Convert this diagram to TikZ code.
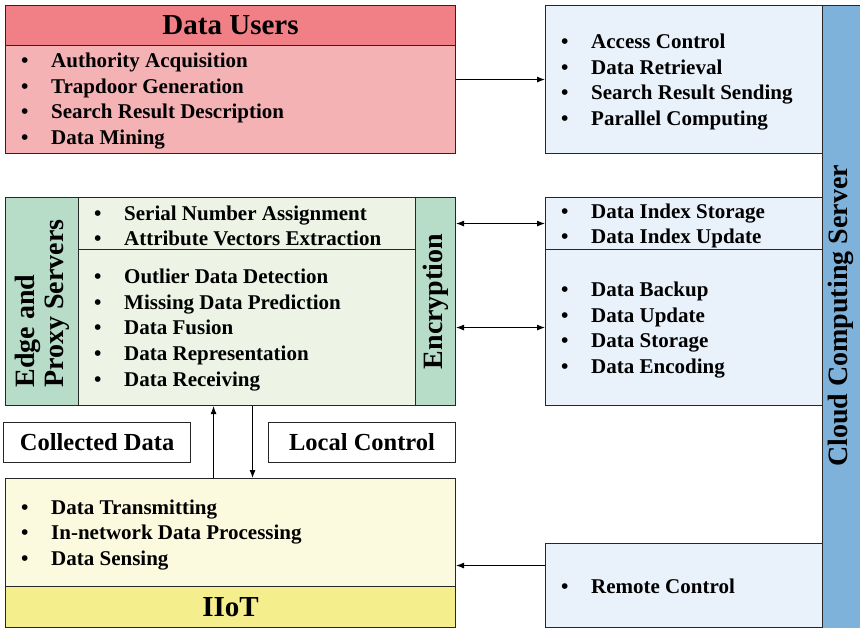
\documentclass[tikz,border=0pt]{standalone}
\usepackage{fontspec}
\setmainfont{Liberation Serif}
\usetikzlibrary{positioning,arrows.meta}
\definecolor{userhead}{RGB}{240,128,133}
\definecolor{userbody}{RGB}{245,178,181}
\definecolor{cloudbox}{RGB}{233,241,250}
\definecolor{cloudbar}{RGB}{126,178,219}
\definecolor{edgebar}{RGB}{183,221,201}
\definecolor{edgebody}{RGB}{237,243,229}
\definecolor{iotbody}{RGB}{251,249,222}
\definecolor{iothead}{RGB}{245,238,140}
\newcommand{\itm}[1]{\makebox[30pt][l]{\textbullet}#1}
\begin{document}
\begin{tikzpicture}[x=1pt,y=-1pt,>={Latex[length=8pt,width=6pt]}]
        \tikzstyle{box}=[draw=black!85,line width=1.1pt,inner sep=0pt,anchor=north west,font=\bfseries]
        \tikzstyle{title}=[font=\fontsize{29}{31}\selectfont\bfseries]
        \tikzstyle{side}=[font=\fontsize{28}{29}\selectfont\bfseries,rotate=90,align=center]
        \tikzstyle{tag}=[font=\fontsize{24.5}{26}\selectfont\bfseries]
        \tikzstyle{lst}=[align=left,anchor=west,inner sep=0pt,font=\fontsize{21}{25.7}\selectfont\bfseries]
        \tikzstyle{link}=[draw,line width=0.9pt]
        \useasboundingbox (0,0) rectangle (860,628);
        % data users
        \node [box,title,fill=userhead,minimum width=450pt,minimum height=40pt] (uhead) at (5,5) {Data Users};
        \node [box,fill=userbody,minimum width=450pt,minimum height=108pt] (ubody) at (5,45) {};
        \node [lst] (ulist) at (21,101) {\itm{Authority Acquisition}\\ \itm{Trapdoor Generation}\\ \itm{Search Result Description}\\ \itm{Data Mining}};
        % cloud computing server
        \node [box,fill=cloudbar,minimum width=42pt,minimum height=627pt] (cbar) at (822,5) {};
        \node [side] (clabel) at (841,316) {Cloud Computing Server};
        \node [box,fill=cloudbox,minimum width=277pt,minimum height=148pt] (ctop) at (545,5) {};
        \node [lst] (clist) at (561,82) {\itm{Access Control}\\ \itm{Data Retrieval}\\ \itm{Search Result Sending}\\ \itm{Parallel Computing}};
        \node [box,fill=cloudbox,minimum width=277pt,minimum height=52pt] (idx) at (545,197) {};
        \node [lst] (ilist) at (561,226) {\itm{Data Index Storage}\\ \itm{Data Index Update}};
        \node [box,fill=cloudbox,minimum width=277pt,minimum height=156pt] (bak) at (545,249) {};
        \node [lst] (blist) at (561,330) {\itm{Data Backup}\\ \itm{Data Update}\\ \itm{Data Storage}\\ \itm{Data Encoding}};
        \node [box,fill=cloudbox,minimum width=277pt,minimum height=84pt] (remote) at (545,543) {};
        \node [lst] (rlist) at (561,586) {\itm{Remote Control}};
        % edge and proxy servers
        \node [box,fill=edgebar,minimum width=73pt,minimum height=208pt] (eleft) at (5,197) {};
        \node [side,align=left] (elabel) at ([yshift=-2pt]eleft.center) {Edge and\\Proxy Servers};
        \node [box,fill=edgebody,minimum width=337pt,minimum height=52pt] (etop) at (78,197) {};
        \node [lst] (elist) at (94,226) {\itm{Serial Number Assignment}\\ \itm{Attribute Vectors Extraction}};
        \node [box,fill=edgebody,minimum width=337pt,minimum height=156pt] (ebot) at (78,249) {};
        \node [lst] (flist) at (94,330) {\itm{Outlier Data Detection}\\ \itm{Missing Data Prediction}\\ \itm{Data Fusion}\\ \itm{Data Representation}\\ \itm{Data Receiving}};
        \node [box,fill=edgebar,minimum width=40pt,minimum height=208pt] (enc) at (415,197) {};
        \node [side] (elabel2) at (enc.center) {Encryption};
        % labels between layers
        \node [box,tag,minimum width=187pt,minimum height=40pt] (cdata) at (3,422) {Collected Data};
        \node [box,tag,minimum width=187pt,minimum height=40pt] (lctrl) at (268,422) {Local Control};
        % iiot
        \node [box,fill=iotbody,minimum width=450pt,minimum height=108pt] (ibody) at (5,478) {};
        \node [lst] (tlist) at (21,535) {\itm{Data Transmitting}\\ \itm{In-network Data Processing}\\ \itm{Data Sensing}};
        \node [box,title,fill=iothead,minimum width=450pt,minimum height=41pt] (ihead) at (5,586) {IIoT};
        % connectors
        \path[link,->] (ubody.east |- ctop.west) -- (ctop.west);
        \path[link,<->] (enc.east |- idx.west) -- (idx.west);
        \path[link,<->] (enc.east |- bak.west) -- (bak.west);
        \path[link,->] ([xshift=-17pt]ibody.north) -- ([xshift=-17pt]ibody.north |- ebot.south);
        \path[link,->] ([xshift=22pt]ibody.north |- ebot.south) -- ([xshift=22pt]ibody.north);
        \path[link,->] ([yshift=20pt]remote.west) -- ([yshift=20pt]remote.west -| ibody.east);
\end{tikzpicture}
\end{document}
